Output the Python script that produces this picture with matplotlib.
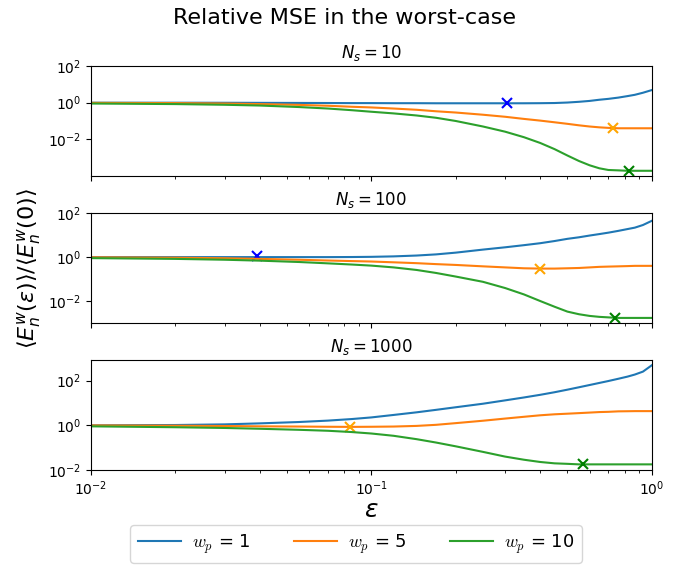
import numpy as np
import matplotlib
matplotlib.use("Agg")
import matplotlib.pyplot as plt
from matplotlib.ticker import NullLocator

# values (eps samples on a log axis)
eps = [0.01, 0.02, 0.03, 0.04, 0.055, 0.07, 0.085, 0.1, 0.12, 0.145, 0.17, 0.2, 0.25,
       0.3, 0.35, 0.4, 0.45, 0.5, 0.55, 0.6, 0.65, 0.7, 0.76, 0.82, 0.87, 0.93, 1.0]

# N_s = 10
ns10_w1 = [1.0, 1.0, 0.99, 0.98, 0.97, 0.96, 0.95, 0.95, 0.94, 0.94, 0.93, 0.93, 0.93,
           0.93, 0.93, 0.94, 0.96, 1.02, 1.12, 1.25, 1.45, 1.62, 1.9, 2.3, 2.7, 3.5, 4.9]
ns10_w5 = [0.98, 0.95, 0.9, 0.84, 0.76, 0.68, 0.6, 0.55, 0.48, 0.41, 0.34, 0.29, 0.22,
           0.17, 0.13, 0.105, 0.085, 0.07, 0.058, 0.05, 0.045, 0.042, 0.04, 0.04, 0.04, 0.04, 0.04]
ns10_w10 = [0.9, 0.84, 0.77, 0.7, 0.58, 0.48, 0.39, 0.32, 0.26, 0.2, 0.15, 0.1, 0.05,
            0.026, 0.013, 0.0063, 0.0029, 0.0013, 0.00065, 0.00038, 0.00026, 0.00021, 0.0002,
            0.00019, 0.00019, 0.00019, 0.00019]

# N_s = 100
ns100_w1 = [1.0, 1.0, 1.0, 1.0, 1.0, 1.0, 1.01, 1.03, 1.08, 1.18, 1.33, 1.6, 2.2,
            2.8, 3.5, 4.3, 5.4, 6.8, 8.0, 9.6, 11.2, 13.0, 15.7, 19.0, 22.0, 29.0, 45.0]
ns100_w5 = [0.98, 0.94, 0.89, 0.83, 0.76, 0.7, 0.66, 0.63, 0.58, 0.53, 0.48, 0.44, 0.38,
            0.34, 0.31, 0.3, 0.3, 0.31, 0.32, 0.34, 0.36, 0.37, 0.38, 0.39, 0.4, 0.4, 0.4]
ns100_w10 = [0.9, 0.83, 0.76, 0.69, 0.6, 0.52, 0.46, 0.41, 0.34, 0.26, 0.19, 0.13, 0.075,
             0.039, 0.02, 0.01, 0.0055, 0.0033, 0.0025, 0.0021, 0.0019, 0.0018, 0.0017,
             0.0017, 0.0017, 0.0017, 0.0017]

# N_s = 1000
ns1000_w1 = [1.0, 1.03, 1.1, 1.22, 1.4, 1.62, 1.9, 2.25, 2.9, 3.8, 4.9, 6.4, 9.2,
             13.0, 17.5, 23.0, 30.0, 39.0, 50.0, 63.0, 78.0, 95.0, 120.0, 150.0, 185.0, 250.0, 480.0]
ns1000_w5 = [0.99, 0.96, 0.93, 0.9, 0.88, 0.86, 0.85, 0.86, 0.88, 0.94, 1.05, 1.25, 1.6,
             2.0, 2.4, 2.8, 3.1, 3.3, 3.5, 3.7, 3.9, 4.0, 4.2, 4.25, 4.3, 4.3, 4.3]
ns1000_w10 = [0.9, 0.82, 0.76, 0.7, 0.63, 0.57, 0.5, 0.43, 0.34, 0.24, 0.17, 0.115, 0.065,
              0.04, 0.029, 0.023, 0.02, 0.019, 0.018, 0.018, 0.018, 0.018, 0.018,
              0.018, 0.018, 0.018, 0.018]

# worst-case markers (eps, value) per panel
mark_eps = [[0.304, 0.73, 0.83], [0.039, 0.40, 0.74], [None, 0.084, 0.57]]
mark_val = [[0.93, 0.04, 0.00019], [1.12, 0.3, 0.0017], [None, 0.85, 0.018]]

ns_list = [10, 100, 1000]
curves = [[ns10_w1, ns10_w5, ns10_w10],
          [ns100_w1, ns100_w5, ns100_w10],
          [ns1000_w1, ns1000_w5, ns1000_w10]]
wp_list = [1, 5, 10]
line_colors = ['tab:blue', 'tab:orange', 'tab:green']
mark_colors = ['blue', 'orange', 'green']
ylims = [(1e-4, 1e2), (1e-3, 1e2), (1e-2, 800)]

fig, axes = plt.subplots(3, 1, figsize=(6.89, 5.65), dpi=100, sharex=True)
fig.subplots_adjust(left=0.132, right=0.946, top=0.883, bottom=0.168, hspace=0.34)

for i, ax in enumerate(axes):
    for j in range(3):
        ax.plot(eps, curves[i][j], color=line_colors[j], lw=1.5,
                label=r'$w_p$ = %d' % wp_list[j])
        if mark_eps[i][j] is not None:
            ax.plot(mark_eps[i][j], mark_val[i][j], 'x', color=mark_colors[j],
                    ms=7, mew=1.5)
    ax.set_xscale('log')
    ax.set_yscale('log')
    ax.set_xlim(1e-2, 1)
    ax.set_ylim(*ylims[i])
    ax.set_yticks([1e-2, 1e0, 1e2])
    ax.yaxis.set_minor_locator(NullLocator())
    ax.set_title(r'$N_s = %d$' % ns_list[i], fontsize=12)

axes[1].set_ylabel(r'$\langle E_n^w(\epsilon)\rangle / \langle E_n^w(0)\rangle$', fontsize=16)
axes[2].set_xlabel(r'$\epsilon$', fontsize=18, labelpad=0)
fig.suptitle('Relative MSE in the worst-case', fontsize=16, y=0.985)

handles, labels = axes[0].get_legend_handles_labels()
fig.legend(handles, labels, loc='lower center', bbox_to_anchor=(0.517, -0.012), ncol=3,
           prop={'size': 13, 'math_fontfamily': 'cm'}, handlelength=2.4,
           handletextpad=0.6, columnspacing=2.4)

plt.savefig('out.png', dpi=100)
